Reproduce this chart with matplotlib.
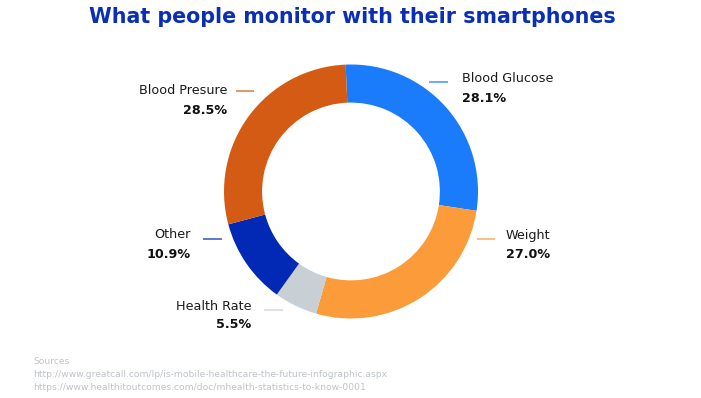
import matplotlib
matplotlib.use("Agg")
import matplotlib.pyplot as plt

title = "What people monitor with their smartphones"
categories = ["Blood Glucose", "Weight", "Health Rate", "Other", "Blood Presure"]
values = [28.1, 27.0, 5.5, 10.9, 28.5]
colors = ["#1a7bfb", "#fb9b3a", "#c8d0d5", "#0129b6", "#d35b14"]
sources = ["Sources",
           "http://www.greatcall.com/lp/is-mobile-healthcare-the-future-infographic.aspx",
           "https://www.healthitoutcomes.com/doc/mhealth-statistics-to-know-0001"]

W, H = 701, 398
fig = plt.figure(figsize=(W / 100, H / 100), dpi=100)
ax = fig.add_axes([0, 0, 1, 1])
ax.set_xlim(0, W)
ax.set_ylim(0, H)
ax.set_aspect("equal")
ax.axis("off")

def Y(y):
    return H - y

cx, cy, R = 351, 191.5, 127
ax.pie(values, colors=colors, startangle=92.4, counterclock=False,
       center=(cx, Y(cy)), radius=R, frame=True,
       wedgeprops=dict(width=R * 0.30, linewidth=0))
ax.set_xlim(0, W)
ax.set_ylim(0, H)
ax.axis("off")

font = "DejaVu Sans"
# label layout: (text x, name y, pct y, ha, line x0, line x1, line y)
layout = {
    "Blood Glucose": (462, 79, 98, "left", 429, 448, 82),
    "Weight": (506, 235, 254, "left", 477, 495, 239),
    "Health Rate": (251, 306, 325, "right", 264, 283, 310),
    "Other": (191, 235, 254, "right", 203, 222, 239),
    "Blood Presure": (227, 90, 110, "right", 236, 254, 91),
}
for cat, val, col in zip(categories, values, colors):
    tx, ny, py, ha, lx0, lx1, ly = layout[cat]
    ax.text(tx, Y(ny), cat, ha=ha, va="center", fontsize=9.2,
            family=font, color="#1a1a1a")
    ax.text(tx, Y(py), f"{val:.1f}%", ha=ha, va="center", fontsize=9.2,
            family=font, weight="bold", color="#111111")
    ax.plot([lx0, lx1], [Y(ly), Y(ly)], color=col, lw=1.2, alpha=0.75,
            solid_capstyle="butt")

ax.text(352, Y(17), title, ha="center", va="center", fontsize=14.9,
        family=font, weight="bold", color="#0a2fb5")

for i, s in enumerate(sources):
    ax.text(33, Y(362 + 12.6 * i), s, ha="left", va="center", fontsize=6.6,
            family=font, color="#bfc3c8")

fig.savefig("out.png", dpi=100)
